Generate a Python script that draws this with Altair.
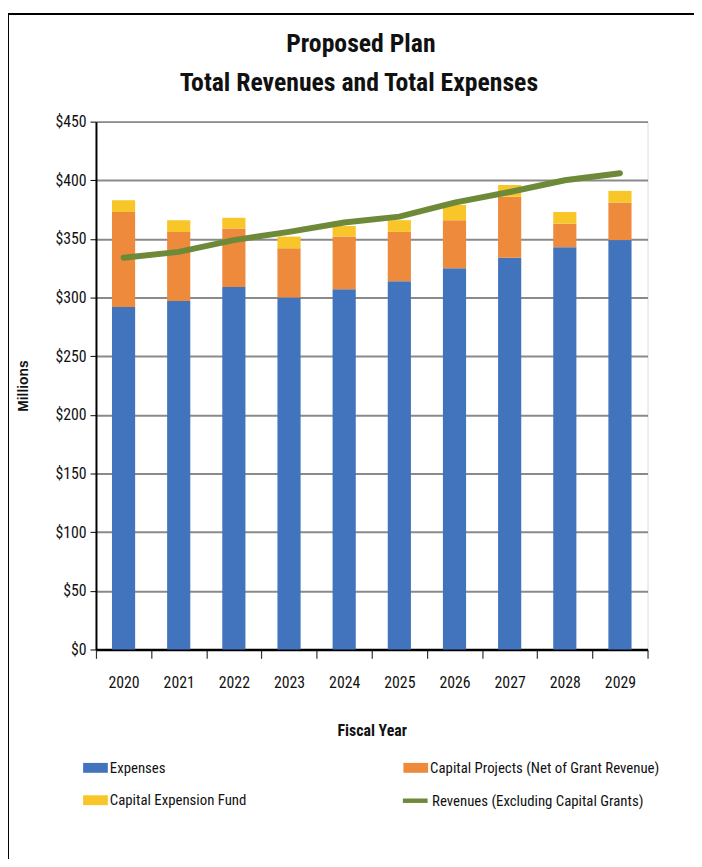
import altair as alt
import pandas as pd

years = ["2020", "2021", "2022", "2023", "2024", "2025", "2026", "2027", "2028", "2029"]
expenses = [292, 297, 309, 300, 307, 314, 325, 334, 343, 349]
capital_projects = [81, 59, 50, 42, 45, 42, 41, 52, 20, 32]
capital_expension_fund = [10, 10, 9, 10, 9, 10, 13, 10, 10, 10]
revenues = [334, 339, 349, 356, 364, 369, 381, 390, 400, 406]

title_lines = ["Proposed Plan", "Total Revenues and Total Expenses"]

# legend order (column-major): Expenses, Capital Expension Fund | Capital Projects
bar_series = [
    "Expenses",
    "Capital Expension Fund",
    "Capital Projects (Net of Grant Revenue)",
]
bar_colors = ["#4274bd", "#f8c629", "#ee8a3c"]
line_series = ["Revenues (Excluding Capital Grants)"]
line_colors = ["#6e8a38"]

rows = []
for i, y in enumerate(years):
    rows.append({"year": y, "series": "Expenses", "value": expenses[i], "order": 0})
    rows.append({"year": y, "series": "Capital Projects (Net of Grant Revenue)", "value": capital_projects[i], "order": 1})
    rows.append({"year": y, "series": "Capital Expension Fund", "value": capital_expension_fund[i], "order": 2})
bars_df = pd.DataFrame(rows)
line_df = pd.DataFrame({"year": years, "value": revenues, "series": line_series[0]})

NARROW = "Liberation Sans Narrow, Arial Narrow, Roboto Condensed, Liberation Sans, sans-serif"

x_scale = alt.Scale(domain=years, paddingInner=0, paddingOuter=0)
y_scale = alt.Scale(domain=[0, 450], nice=False)

x_axis = alt.Axis(
    title="Fiscal Year", tickBand="extent", labelAngle=0, labelFont=NARROW,
    labelFontSize=16, labelColor="#111", labelPadding=16, titleFont=NARROW,
    titleFontSize=16, titleFontWeight="bold", titleColor="#111", titlePadding=33,
    domainColor="#000", domainWidth=2.5, tickColor="#333", tickSize=9, tickWidth=1.2,
    grid=False,
)
y_axis = alt.Axis(
    title="Millions", values=[0, 50, 100, 150, 200, 250, 300, 350, 400, 450],
    format="$,.0f", labelFont=NARROW, labelFontSize=16, labelColor="#111",
    labelPadding=4, titleFont="Liberation Sans", titleFontSize=14,
    titleFontWeight="bold", titleColor="#111", titlePadding=25,
    domainColor="#000", domainWidth=2, tickColor="#000", tickSize=6,
    gridColor="#8a8a8a", gridWidth=2,
)

common_legend = dict(
    title=None, orient="none", symbolSize=625, labelFont=NARROW, labelFontSize=15,
    labelColor="#111", labelOffset=2, labelLimit=400,
)
bar_legend = alt.Legend(
    legendX=-13, legendY=641, columns=2, columnPadding=158, rowPadding=12,
    symbolType="M-1,-0.4H1V0.4H-1Z", symbolStrokeWidth=0, **common_legend,
)
line_legend = alt.Legend(
    legendX=308, legendY=672, symbolType="stroke", symbolStrokeWidth=4.5,
    **common_legend,
)

bars = alt.Chart(bars_df).mark_bar(width={"band": 0.42}).encode(
    x=alt.X("year:N", scale=x_scale, axis=x_axis, sort=years),
    y=alt.Y("sum(value):Q", scale=y_scale, axis=y_axis, stack="zero"),
    color=alt.Color("series:N", scale=alt.Scale(domain=bar_series, range=bar_colors),
                    legend=bar_legend),
    order=alt.Order("order:Q", sort="ascending"),
)

line = alt.Chart(line_df).mark_line(strokeWidth=6, strokeCap="round").encode(
    x=alt.X("year:N", scale=x_scale, sort=years),
    y=alt.Y("value:Q", scale=y_scale),
    stroke=alt.Stroke("series:N", scale=alt.Scale(domain=line_series, range=line_colors),
                      legend=line_legend),
)

one = pd.DataFrame({"k": [0]})
border = alt.Chart(one).mark_rect(fill="transparent", stroke="#000", strokeWidth=2).encode(
    x=alt.value(-89), x2=alt.value(700), y=alt.value(-109), y2=alt.value(900)
)
title1 = alt.Chart(one).mark_text(
    text=title_lines[0], font=NARROW, fontSize=26, fontWeight="bold", color="#111",
    align="center", baseline="middle",
).encode(x=alt.value(268), y=alt.value(-78))
title2 = alt.Chart(one).mark_text(
    text=title_lines[1], font=NARROW, fontSize=26, fontWeight="bold", color="#111",
    align="center", baseline="middle",
).encode(x=alt.value(266), y=alt.value(-39))

chart = alt.layer(bars, line, border, title1, title2).properties(
    width=558,
    height=534,
    autosize=alt.AutoSizeParams(type="none"),
    padding={"left": 89, "top": 110, "right": 47, "bottom": 207},
).configure_view(stroke=None).configure(background="white")

chart.save("out.html", embed_options={"renderer": "svg", "actions": False})
